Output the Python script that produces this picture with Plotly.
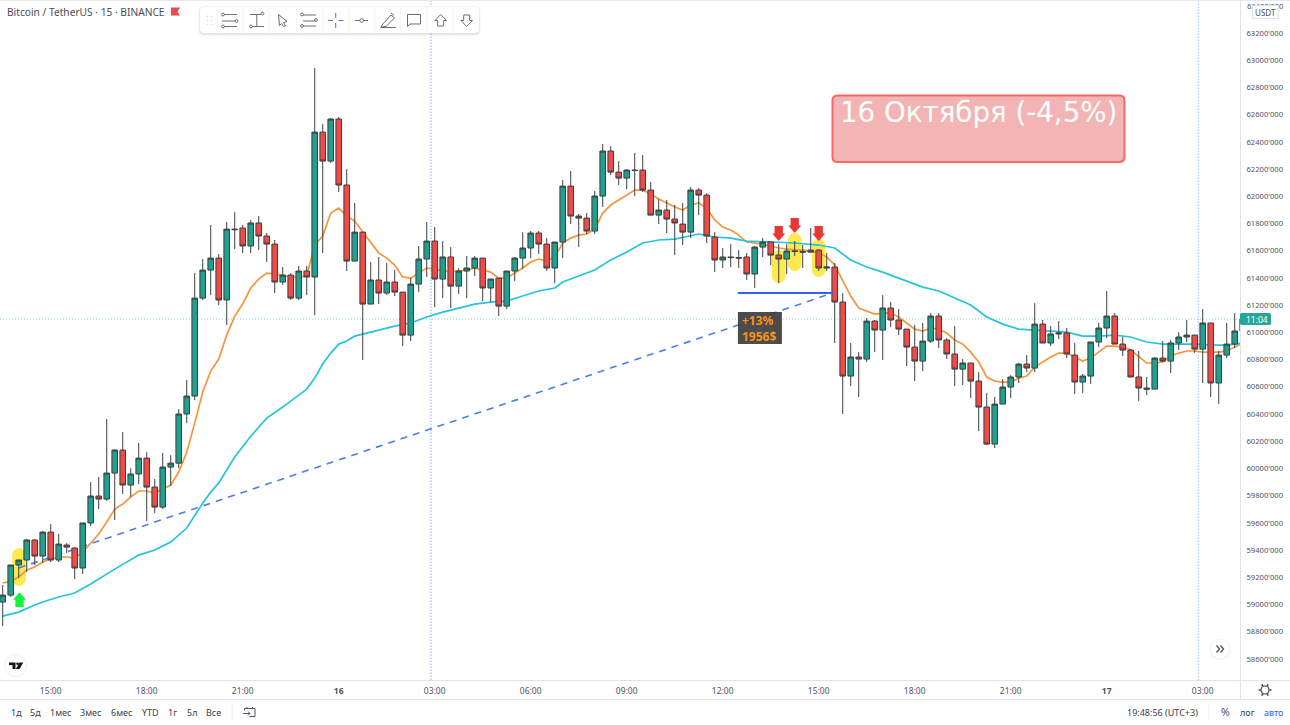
import math
import re
import plotly.graph_objects as go

# 15-minute BTC/USDT candles, starting at 13:30 on 15 October
open_prices = [
    59018,59069,59290,59327,59474,59356,59532,59327,59437,59415,
    59268,59599,59797,59775,59966,60135,59878,59959,60076,59863,
    59716,60010,60039,60400,60532,61252,61458,61546,61238,61759,
    61767,61635,61804,61708,61649,61370,61421,61252,61451,61407,
    62472,62259,62568,62083,61524,61737,61208,61385,61289,61370,
    61296,60980,61355,61539,61671,61392,61554,61340,61451,61473,
    61546,61326,61399,61193,61451,61546,61620,61730,61649,61473,
    61664,62075,61855,61840,61745,62002,62333,62178,62134,62193,
    62193,62046,61862,61899,61833,61796,61737,62046,62009,61701,
    61532,61554,61550,61554,61429,61627,61664,61568,61539,61598,
    61595,61590,61605,61473,61480,61223,60679,60819,60804,61083,
    61017,61179,61091,61024,60892,60789,60936,61120,60944,60841,
    60730,60775,60642,60451,60179,60473,60598,60672,60767,60738,
    61061,60922,60988,60995,60833,60635,60679,60929,61032,61120,
    60914,60870,60672,60591,60583,60811,60789,60922,60966,60980,
    60877,61069,60628,60833,60914,61010,
]
high_prices = [
    59143,59290,59327,59481,59481,59540,59591,59518,59451,59422,
    59599,59900,59937,60363,60142,60267,60002,60187,60120,59922,
    60113,60098,60436,60650,61436,61539,61789,61576,61811,61884,
    61789,61826,61855,61730,61679,61480,61436,61488,61488,62943,
    62531,62575,62583,62200,61951,61737,61517,61554,61510,61458,
    61296,61399,61635,61811,61774,61671,61627,61473,61561,61561,
    61546,61392,61399,61451,61554,61737,61745,61745,61693,61664,
    62120,62186,61870,61877,62039,62384,62369,62259,62200,62318,
    62303,62105,61980,61973,61936,61951,62068,62061,62024,61737,
    61620,61649,61605,61583,61635,61693,61671,61649,61649,61671,
    61642,61767,61612,61583,61510,61289,60922,60855,61105,61091,
    61274,61223,61171,61024,61054,61069,61142,61142,60958,61046,
    60804,60775,60708,60554,60525,60657,60686,60775,60833,61215,
    61091,61046,61083,61032,60922,60694,60929,61069,61304,61142,
    60966,60877,60863,60672,60819,60936,60944,61002,61091,60980,
    61171,61069,60863,61069,61142,61164,
]
low_prices = [
    58841,59055,59194,59238,59290,59305,59312,59312,59378,59187,
    59224,59577,59701,59760,59621,59812,59790,59885,59613,59672,
    59701,59870,60002,60333,60503,61238,61274,61200,61054,61612,
    61583,61583,61605,61517,61289,61348,61238,61238,61274,61127,
    61583,62245,62031,61451,61524,60797,61208,61208,61274,61267,
    60899,60936,61296,61407,61186,61252,61179,61282,61252,61414,
    61230,61223,61120,61171,61377,61465,61546,61576,61451,61362,
    61546,61796,61627,61723,61723,61921,62156,62083,62053,62002,
    62031,61862,61796,61730,61568,61642,61693,61862,61657,61443,
    61473,61480,61473,61385,61326,61554,61495,61362,61429,61561,
    61473,61583,61451,61451,60922,60400,60605,60525,60782,60855,
    60797,61039,60980,60752,60642,60716,60922,60885,60804,60605,
    60613,60517,60275,60172,60150,60473,60517,60628,60708,60708,
    60922,60899,60951,60811,60547,60554,60620,60892,60958,60914,
    60826,60672,60495,60539,60583,60782,60701,60870,60929,60848,
    60628,60525,60473,60811,60885,60995,
]
close_prices = [
    59069,59290,59327,59474,59356,59532,59327,59444,59422,59268,
    59599,59797,59775,59966,60135,59878,59959,60076,59863,59716,
    60010,60039,60400,60532,61252,61458,61546,61238,61759,61755,
    61635,61804,61708,61649,61370,61421,61252,61451,61407,62472,
    62259,62568,62083,61524,61737,61208,61385,61289,61370,61296,
    60980,61355,61539,61671,61392,61554,61340,61451,61473,61546,
    61326,61392,61193,61451,61546,61620,61730,61649,61473,61664,
    62075,61855,61840,61745,62002,62333,62178,62134,62193,62190,
    62046,61862,61899,61833,61804,61737,62046,62009,61708,61532,
    61554,61550,61546,61429,61627,61664,61568,61539,61598,61595,
    61590,61605,61473,61480,61223,60679,60819,60804,61083,61017,
    61179,61091,61024,60892,60789,60936,61120,60944,60841,60730,
    60775,60642,60451,60179,60473,60598,60672,60767,60738,61061,
    60922,60988,60995,60841,60635,60679,60929,61032,61120,60914,
    60870,60672,60591,60583,60811,60789,60922,60966,60980,60877,
    61069,60628,60833,60914,61010,61098,
]
candle_index = list(range(len(open_prices)))

# Fast moving average, one value per candle
fast_ma = [
    59158,59172,59202,59253,59275,59312,59334,59349,59349,59341,
    59385,59451,59518,59606,59701,59738,59790,59834,59834,59819,
    59848,59878,59973,60120,60333,60561,60716,60804,60980,61120,
    61208,61326,61392,61436,61429,61421,61407,61407,61414,61642,
    61708,61877,61914,61855,61818,61737,61657,61583,61546,61495,
    61407,61399,61436,61473,61465,61451,61451,61451,61458,61473,
    61458,61443,61399,61399,61436,61473,61517,61539,61524,61554,
    61657,61693,61715,61723,61759,61877,61936,61973,62009,62046,
    62046,62017,61980,61951,61921,61899,61936,61951,61914,61826,
    61774,61752,61715,61664,61657,61649,61635,61620,61612,61605,
    61605,61598,61583,61554,61495,61385,61267,61179,61157,61135,
    61142,61142,61113,61069,61024,61010,61032,61024,60995,60944,
    60914,60855,60782,60672,60642,60635,60635,60664,60679,60745,
    60782,60819,60848,60848,60819,60789,60811,60855,60899,60899,
    60892,60870,60819,60775,60775,60782,60826,60848,60863,60863,
    60855,60855,60855,60863,60892,60922,
]

# Slow moving average, read at selected candles
slow_ma_index = [
    0,2,4,5,7,9,11,14,17,19,21,23,25,26,27,29,31,33,35,38,39,40,41,42,43,44,46,49,
    51,53,55,57,59,61,63,65,67,69,70,72,74,76,78,80,82,84,86,87,89,91,93,96,99,102,
    104,106,108,110,112,115,117,119,121,123,125,127,129,131,133,135,137,139,141,143,
    145,147,149,151,153,155,
]
slow_ma = [
    58915,58944,58996,59018,59055,59084,59150,59260,59363,59400,59459,59562,59745,59826,
    59893,60084,60237,60370,60451,60583,60664,60767,60848,60914,60936,60973,61002,61046,
    61069,61113,61149,61179,61208,61223,61230,61267,61304,61326,61370,61414,61458,61532,
    61590,61657,61679,61686,61708,61723,61701,61693,61671,61664,61657,61642,
    61620,61532,61480,61443,61399,61333,61304,61252,61201,61113,61061,61024,61017,61010,
    61002,60973,60973,60980,60966,60929,
    60914,60914,60914,60907,60907,60922,
]

# Axis ticks
time_ticks = [6, 18, 30, 42, 54, 66, 78, 90, 102, 114, 126, 138, 150]
time_labels = ["15:00", "18:00", "21:00", "<b>16</b>", "03:00", "06:00", "09:00",
               "12:00", "15:00", "18:00", "21:00", "<b>17</b>", "03:00"]
price_ticks = list(range(58600, 63201, 200))
price_labels = [f"{v}'000" for v in price_ticks]
x_range = [-0.34, 154.66]
y_range = [58445, 63443]

# Drawn objects on the price chart
last_price = 61098
session_lines = [53.54, 149.46]
level_start, level_end, level_price = 91.9, 103.8, 61290
trend_start, trend_start_price = 2.0, 59268
highlights = [(2.04, 59415, 59135), (97.0, 61605, 61362), (99.0, 61730, 61451), (102.0, 61686, 61407)]
down_arrows = [(97.0, 61781, 61671), (99.0, 61840, 61730), (102.0, 61781, 61671)]
up_arrows = [(2.1, 58981, 59090)]
gain_box = (91.9, 97.4, 61150, 60915)
gain_text = (92.3, 61032, "<b>+13%<br>1956$</b>")

BORDER = "#e0e3eb"
TEXT = "#50535e"
FONT = "Noto Sans"
PLOT_W, PLOT_H = 1240, 680


def px(x):
    return x / PLOT_W


def py(y):
    return 1 - y / PLOT_H


def to_paper(path):
    return re.sub(r"(-?[\d.]+),(-?[\d.]+)",
                  lambda m: f"{px(float(m[1])):.5f},{py(float(m[2])):.5f}", path)


def chrome(path, line=None, width=1, fill=None):
    """Interface artwork, given in window pixels."""
    return dict(type="path", xref="paper", yref="paper", layer="above", path=to_paper(path),
                line=dict(color=line or "rgba(0,0,0,0)", width=width if line else 0),
                fillcolor=fill or "rgba(0,0,0,0)")


def disc(cx, cy, r, line=None, width=1, fill=None):
    return dict(type="circle", xref="paper", yref="paper", layer="above",
                x0=px(cx - r), x1=px(cx + r), y0=py(cy + r), y1=py(cy - r),
                line=dict(color=line or "rgba(0,0,0,0)", width=width if line else 0),
                fillcolor=fill or "rgba(0,0,0,0)")


def round_rect(x0, y0, x1, y1, r):
    return (f"M {x0+r},{y0} L {x1-r},{y0} Q {x1},{y0} {x1},{y0+r} L {x1},{y1-r} "
            f"Q {x1},{y1} {x1-r},{y1} L {x0+r},{y1} Q {x0},{y1} {x0},{y1-r} "
            f"L {x0},{y0+r} Q {x0},{y0} {x0+r},{y0} Z")


def capsule(center, top, bottom, half_w=0.85, cap=50):
    k = 0.45
    l, r = center - half_w, center + half_w
    return (f"M {l},{top-cap} C {l},{top-cap*k} {center-half_w*k},{top} {center},{top} "
            f"C {center+half_w*k},{top} {r},{top-cap*k} {r},{top-cap} L {r},{bottom+cap} "
            f"C {r},{bottom+cap*k} {center+half_w*k},{bottom} {center},{bottom} "
            f"C {center-half_w*k},{bottom} {l},{bottom+cap*k} {l},{bottom+cap} Z")


def block_arrow(center, tail, tip, head_w=0.82, stem_w=0.52):
    neck = tip + (tail - tip) * 0.5
    return (f"M {center},{tip} L {center+head_w},{neck} L {center+stem_w},{neck} L {center+stem_w},{tail} "
            f"L {center-stem_w},{tail} L {center-stem_w},{neck} L {center-head_w},{neck} Z")


def label(x, y, text, size=9, color=TEXT, anchor="center", family=FONT):
    return dict(xref="paper", yref="paper", x=px(x), y=py(y), text=text, showarrow=False,
                xanchor=anchor, yanchor="middle", font=dict(size=size, color=color, family=family),
                borderpad=0)


shapes = []

# Objects below the candles: session lines, last price, highlights and trend line
for pos in session_lines:
    shapes.append(dict(type="line", xref="x", yref="paper", x0=pos, x1=pos, y0=0, y1=1, layer="below",
                       line=dict(color="#bccff7", width=1.5, dash="1.5px,1.5px")))
shapes.append(dict(type="line", xref="paper", yref="y", x0=0, x1=1, y0=last_price, y1=last_price, layer="below",
                   line=dict(color="#8fd8d0", width=1, dash="1px,2px")))
for center, top, bottom in highlights:
    shapes.append(dict(type="path", xref="x", yref="y", layer="below", path=capsule(center, top, bottom),
                       fillcolor="#fdea50", line=dict(width=0)))
shapes.append(dict(type="line", xref="x", yref="y", layer="below", x0=trend_start, y0=trend_start_price,
                   x1=level_end, y1=level_price, line=dict(color="#4a7cf5", width=1.6, dash="7px,6px")))
shapes.append(dict(type="line", xref="x", yref="y", layer="above", x0=level_start, y0=level_price,
                   x1=level_end, y1=level_price, line=dict(color="#2f62ee", width=2)))

# Gain readout backing
shapes.append(dict(type="rect", xref="x", yref="y", layer="above", x0=gain_box[0], x1=gain_box[1],
                   y0=gain_box[3], y1=gain_box[2], fillcolor="rgba(56,56,56,0.9)", line=dict(width=0)))

# Signal arrows over the candles
for center, tail, tip in down_arrows:
    shapes.append(dict(type="path", xref="x", yref="y", layer="above", path=block_arrow(center, tail, tip),
                       fillcolor="#e53935", line=dict(width=0)))
for center, tail, tip in up_arrows:
    shapes.append(dict(type="path", xref="x", yref="y", layer="above", path=block_arrow(center, tail, tip),
                       fillcolor="#12f53c", line=dict(width=0)))

# Date callout
shapes.append(chrome(round_rect(832.5, 95.5, 1124.5, 162, 5), line="#f46a66", width=2, fill="#f3b5b4"))

# Pane borders
shapes += [
    chrome("M 0,0.5 L 1290,0.5", line="#e6e9f0"),
    chrome("M 1240.5,0 L 1240.5,699", line=BORDER),
    chrome("M 0,680.5 L 1290,680.5", line=BORDER),
    chrome("M 0,699.5 L 1290,699.5", line=BORDER),
    chrome("M 232,703 L 232,720", line="#eceef2"),
    chrome("M 1209,704 L 1209,720", line="#eceef2"),
]

# Drawing toolbar
shapes += [
    chrome(round_rect(198.5, 6.5, 480.5, 36, 5), fill="rgba(20,30,60,0.05)"),
    chrome(round_rect(199.5, 6.5, 479.5, 34.5, 5), fill="rgba(20,30,60,0.08)"),
    chrome(round_rect(200, 7, 479, 33, 4), fill="#ffffff"),
]
for sep in [217.7, 243.3, 269.3, 296.7, 322.7, 348.7, 374.7, 400.7, 426.7, 453.3]:
    shapes.append(chrome(f"M {sep},7 L {sep},33", line="#f2f3f6"))
for gx in (207.5, 211.5):
    for gy in (16.5, 20.5, 24.5):
        shapes.append(disc(gx, gy, 0.8, fill="#d8dbe3"))
ICON = "#6a6d78"
shapes += [
    # parallel channel
    chrome("M 224,14.5 L 237,14.5 M 222,21 L 235,21 M 224,26.5 L 237,26.5", line=ICON),
    disc(223, 14.5, 1.4, line=ICON, fill="#fff"), disc(236.5, 21, 1.4, line=ICON, fill="#fff"),
    disc(223, 26.5, 1.4, line=ICON, fill="#fff"),
    # vertical measure
    chrome("M 250,14.5 L 261,14.5 M 256.8,14.5 L 256.8,26.5 M 252,26.5 L 264,26.5", line=ICON),
    disc(262.5, 13.5, 1.4, line=ICON, fill="#fff"), disc(251, 26.5, 1.4, line=ICON, fill="#fff"),
    # cursor
    chrome("M 278.5,14.5 L 287,21.5 L 283.5,22.5 L 285.5,26 L 283.5,26.5 L 281.5,23.5 L 279.5,25.5 Z", line=ICON),
    # channel with dotted middle
    chrome("M 303,15 L 316,15 M 303,21 L 316,21 M 303,26 L 316,26", line=ICON),
    disc(302, 14.5, 1.4, line=ICON, fill="#fff"), disc(316, 20, 1.4, line=ICON, fill="#fff"),
    disc(302, 26, 1.4, line=ICON, fill="#fff"),
    # crosshair
    chrome("M 328,20.5 L 333,20.5 M 338.5,20.5 L 343.5,20.5 M 335.7,13 L 335.7,18 M 335.7,23 L 335.7,28",
           line="#3b78f2"),
    # horizontal ray
    chrome("M 355,20.5 L 368,20.5", line=ICON), disc(361.7, 20.5, 1.8, line=ICON, fill="#fff"),
    # highlighter
    chrome("M 382,25 L 391,15 L 394.5,18 L 386,26.5 L 381,27 Z M 380.5,27.5 L 396,27.5 M 391,13 L 394,15.5", line=ICON),
    # callout
    chrome("M 407.5,14.5 L 420.5,14.5 L 420.5,24 L 410,24 L 407.5,26.5 Z", line=ICON),
    # arrows
    chrome("M 440.7,14.5 L 446.5,20.5 L 443.7,20.5 L 443.7,26 L 437.7,26 L 437.7,20.5 L 434.9,20.5 Z", line=ICON),
    chrome("M 466.7,26.5 L 472.5,20.5 L 469.7,20.5 L 469.7,15 L 463.7,15 L 463.7,20.5 L 460.9,20.5 Z", line=ICON),
]

# Status flag next to the title
shapes.append(chrome("M 171,7.5 L 180,7.5 L 177.5,11.5 L 180,15.5 L 171,15.5 Z", fill="#f4474a"))

# Last-price tag
shapes.append(chrome(round_rect(1240, 313, 1271, 325, 1.5), fill="#26a69a"))

# Logo badge
shapes += [
    disc(15.7, 665.5, 11.5, fill="#f2f3f5"),
    disc(15.7, 665.5, 10.5, fill="#ffffff"),
    chrome("M 9,662.5 L 15.5,662.5 L 15.5,669 L 12.5,669 L 12.5,665 L 9,665 Z", fill="#131722"),
    disc(17.5, 663.8, 1.3, fill="#131722"),
    chrome("M 19.5,662.5 L 23.3,662.5 L 19.5,669 L 15.8,669 Z", fill="#131722"),
]

# Scroll-to-latest button
shapes += [
    disc(1220, 649.5, 10.5, fill="#f0f1f4"),
    disc(1220, 649, 9.5, fill="#ffffff"),
    chrome("M 1216.5,645.5 L 1219.5,649 L 1216.5,652.5 M 1220.5,645.5 L 1223.5,649 L 1220.5,652.5", line="#50535e", width=1.3),
]

# Settings gear
gear_teeth = " ".join(
    f"M {1265 + 4.6*math.cos(a):.2f},{690 + 4.6*math.sin(a):.2f} L {1265 + 6.4*math.cos(a):.2f},{690 + 6.4*math.sin(a):.2f}"
    for a in [math.pi * k / 3 for k in range(6)])
shapes += [disc(1265, 690, 4, line="#3b3e47", width=1.2), chrome(gear_teeth, line="#3b3e47", width=1.6)]

# Date-range icon
shapes.append(chrome("M 244.5,710.5 L 244.5,708.5 L 255,708.5 L 255,716.5 L 249.5,716.5 "
                     "M 243,713.5 L 250,713.5 M 248,711.5 L 250,713.5 L 248,715.5 M 247,707 L 247,709 M 252.5,707 L 252.5,709",
                     line="#50535e"))

annotations = [
    label(6, 12, "Bitcoin / TetherUS · 15 · BINANCE", size=10.2, color="#4a4d57", anchor="left"),
    label(978.5, 113, "16 Октября (-4,5%)", size=27.7, color="#ffffff", family="DejaVu Sans"),
    # top price label, partly covered by the currency button
    label(1264.5, 5.8, "63400'000", size=7.6, color=TEXT),
    dict(xref="paper", yref="paper", x=px(1265.5), y=py(12.3), text="USDT", showarrow=False,
         xanchor="center", yanchor="middle", width=25, height=12, bgcolor="#ffffff",
         bordercolor="#dfe2ea", borderwidth=1, borderpad=0, font=dict(size=8, color=TEXT, family=FONT)),
    label(1256.5, 319, "11:04", size=8.5, color="#ffffff"),
    label(1162, 712, "19:48:56 (UTC+3)", size=9, color="#3b3e47"),
    label(1225.7, 712, "%", size=10.5, color=TEXT),
    label(1247, 712, "лог", size=9, color="#3b3e47"),
    label(1273, 712, "авто", size=9, color="#2962ff"),
    dict(xref="x", yref="y", x=gain_text[0], y=gain_text[1], text=gain_text[2], showarrow=False, align="left",
         xanchor="left", yanchor="middle", borderpad=0, font=dict(size=12, color="#f7931a", family=FONT)),
]
for cx, text in [(16, "1д"), (35.7, "5д"), (61, "1мес"), (91, "3мес"), (121.7, "6мес"),
                 (150, "YTD"), (172.7, "1г"), (191.7, "5л"), (213, "Все")]:
    annotations.append(label(cx, 712, text, size=9, color="#3b3e47"))

fig = go.Figure()

# Moving averages sit on the base axes, under the candle overlay
fig.add_trace(go.Scatter(x=candle_index, y=fast_ma, mode="lines", name="MA fast",
                         line=dict(color="#f6953d", width=1.7), xaxis="x", yaxis="y"))
fig.add_trace(go.Scatter(x=slow_ma_index, y=slow_ma, mode="lines", name="MA slow",
                         line=dict(color="#25c4dc", width=1.7), xaxis="x", yaxis="y"))
fig.add_trace(go.Candlestick(
    x=candle_index, open=open_prices, high=high_prices, low=low_prices, close=close_prices,
    xaxis="x2", yaxis="y2", whiskerwidth=0,
    increasing=dict(fillcolor="#229e8c", line=dict(color="#3c3f41", width=1)),
    decreasing=dict(fillcolor="#ee4b47", line=dict(color="#3c3f41", width=1)),
))

fig.update_layout(
    width=1290, height=725, autosize=False,
    margin=dict(l=0, r=50, t=0, b=45, pad=0),
    paper_bgcolor="#ffffff", plot_bgcolor="#ffffff",
    showlegend=False, hovermode=False, boxgap=0.3, boxgroupgap=0,
    font=dict(family=FONT, color=TEXT),
    xaxis=dict(range=x_range, tickmode="array", tickvals=time_ticks, ticktext=time_labels,
               showgrid=False, zeroline=False, showline=False, ticks="outside", ticklen=3,
               tickcolor="rgba(0,0,0,0)", tickfont=dict(size=8.5, color=TEXT, family=FONT),
               rangeslider=dict(visible=False)),
    yaxis=dict(range=y_range, side="right", tickmode="array", tickvals=price_ticks, ticktext=price_labels,
               showgrid=False, zeroline=False, showline=False, ticks="outside", ticklen=4,
               tickcolor="rgba(0,0,0,0)", tickfont=dict(size=7.6, color=TEXT, family=FONT)),
    xaxis2=dict(range=x_range, overlaying="x", anchor="y2", visible=False, rangeslider=dict(visible=False)),
    yaxis2=dict(range=y_range, overlaying="y", anchor="x2", visible=False, side="right"),
    shapes=shapes,
    annotations=annotations,
)

fig.write_html("out.html", config={"displayModeBar": False})
